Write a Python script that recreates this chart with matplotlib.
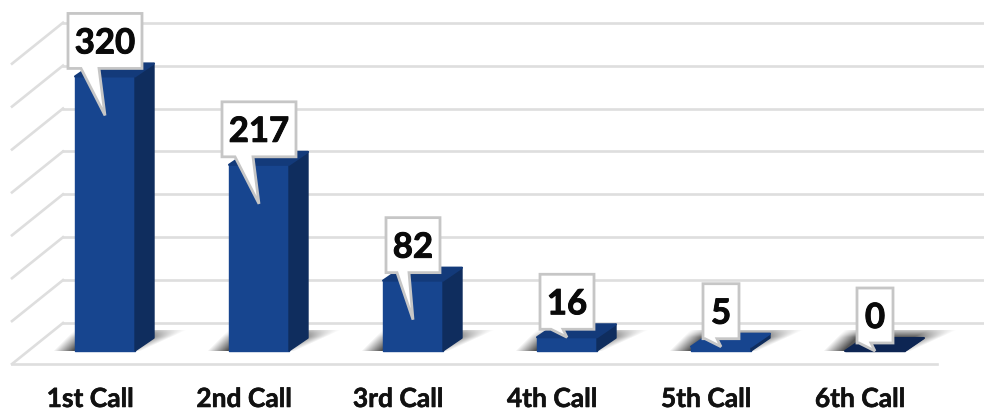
import numpy as np
import matplotlib
matplotlib.use("Agg")
import matplotlib.pyplot as plt
import matplotlib.patheffects as pe
from matplotlib.patches import Polygon

categories = ["1st Call", "2nd Call", "3rd Call", "4th Call", "5th Call", "6th Call"]
values = [320, 217, 82, 16, 5, 0]
grid_values = [0, 50, 100, 150, 200, 250, 300, 350]

W, H = 984, 414
PX_X = 154.0       # pixels per category
PX_Y = 0.858       # pixels per unit
X0, Y0 = 105, 352  # first bar centre, bar base

fig = plt.figure(figsize=(W / 100, H / 100), dpi=100)
ax = fig.add_axes([0, 0, 1, 1])
ax.set_xlim(-X0 / PX_X, (W - X0) / PX_X)
ax.set_ylim(-(H - Y0) / PX_Y, Y0 / PX_Y)
ax.axis("off")

# offsets are given in pixels and turned into data units
def dx(p):
    return p / PX_X

def dy(p):
    return p / PX_Y

GRID = "#dedede"
FRONT = "#17458f"
SIDE = "#0f2d5e"
TOP = "#133a7a"
ZERO = "#0d2553"

# back wall and side wall grid
back_x = -X0 / PX_X + dx(63)
back_y = dy(28)
for g in grid_values:
    ax.plot([back_x, ax.get_xlim()[1]], [g + back_y, g + back_y], color=GRID, lw=1.9, zorder=1)
    ax.plot([back_x, back_x - dx(51)], [g + back_y, g + back_y - dy(41)], color=GRID, lw=1.9, zorder=1)
# floor front edge
ax.plot([back_x - dx(51), back_x - dx(51) + dx(925)], [back_y - dy(41)] * 2, color=GRID, lw=1.9, zorder=1)

bar_w = dx(60)
side_x = dx(19)
side_y = dy(13)

# soft skewed shadow, worked out in pixels: bar left edge is px=25, right edge px=85
sh_w, sh_h = 170, 21
px, py = np.meshgrid(np.arange(sh_w) + 0.5, np.arange(sh_h) + 0.5)
fade_left = np.interp(px - 25 - py, [-22, -2], [0, 0.68])
fade_right = np.interp(px - 85 - 2.2 * py, [-22, 6], [1, 0])
fade_top = np.interp(py, [0, 14, 21], [1, 0.95, 0.3])
shadow = np.zeros((sh_h, sh_w, 4))
shadow[..., 3] = fade_left * fade_right * fade_top

for i, v in enumerate(values):
    left = i - bar_w / 2
    right = i + bar_w / 2

    # shadow on the floor
    sx0 = left - dx(25)
    ax.imshow(shadow, extent=[sx0, sx0 + dx(sh_w), 0, dy(sh_h)], origin="lower", aspect="auto",
              zorder=2, interpolation="bilinear")

    top_col = ZERO if v == 0 else (FRONT if v < 10 else TOP)
    front_col = ZERO if v == 0 else FRONT
    ax.add_patch(Polygon([(left, 0), (right, 0), (right, v), (left, v)], facecolor=front_col,
                         edgecolor=front_col, lw=1, joinstyle="round", zorder=3))
    ax.add_patch(Polygon([(right, 0), (right + side_x, side_y), (right + side_x, v + side_y), (right, v)],
                         facecolor=SIDE, edgecolor=SIDE, lw=1, joinstyle="round", zorder=3))
    ax.add_patch(Polygon([(left, v), (right, v), (right + side_x, v + side_y), (left + side_x, v + side_y)],
                         facecolor=top_col, edgecolor=top_col, lw=1.5, joinstyle="round", zorder=3))

    # callout label
    label = str(v)
    half = {3: 37, 2: 27, 1: 18}[len(label)]
    bottom = v + dy(8)
    top = bottom + dy(55)
    tip_y = v if v < 20 else v - dy(39)
    base0, base1 = (-24, -6) if len(label) == 3 else (-16, -4)
    pts = [(i - dx(half), bottom), (i + dx(base0), bottom), (i, tip_y), (i + dx(base1), bottom),
           (i + dx(half), bottom), (i + dx(half), top), (i - dx(half), top)]
    ax.add_patch(Polygon(pts, closed=True, facecolor="white", edgecolor="#c6c6c6", lw=2, joinstyle="miter", zorder=4))
    ax.text(i, bottom + dy(25), label, ha="center", va="center", fontsize=25, fontweight="bold",
            family="Lato", color="#0a0a0a", zorder=5,
            path_effects=[pe.withStroke(linewidth=0.7, foreground="#0a0a0a")])

    ax.text(i - dx(15), -dy(48), categories[i], ha="center", va="center", fontsize=19, fontweight="bold",
            family="Lato", color="#111111", zorder=5,
            path_effects=[pe.withStroke(linewidth=0.4, foreground="#111111")])

ax.set_xlim(-X0 / PX_X, (W - X0) / PX_X)
ax.set_ylim(-(H - Y0) / PX_Y, Y0 / PX_Y)

fig.savefig("out.png", dpi=100)
